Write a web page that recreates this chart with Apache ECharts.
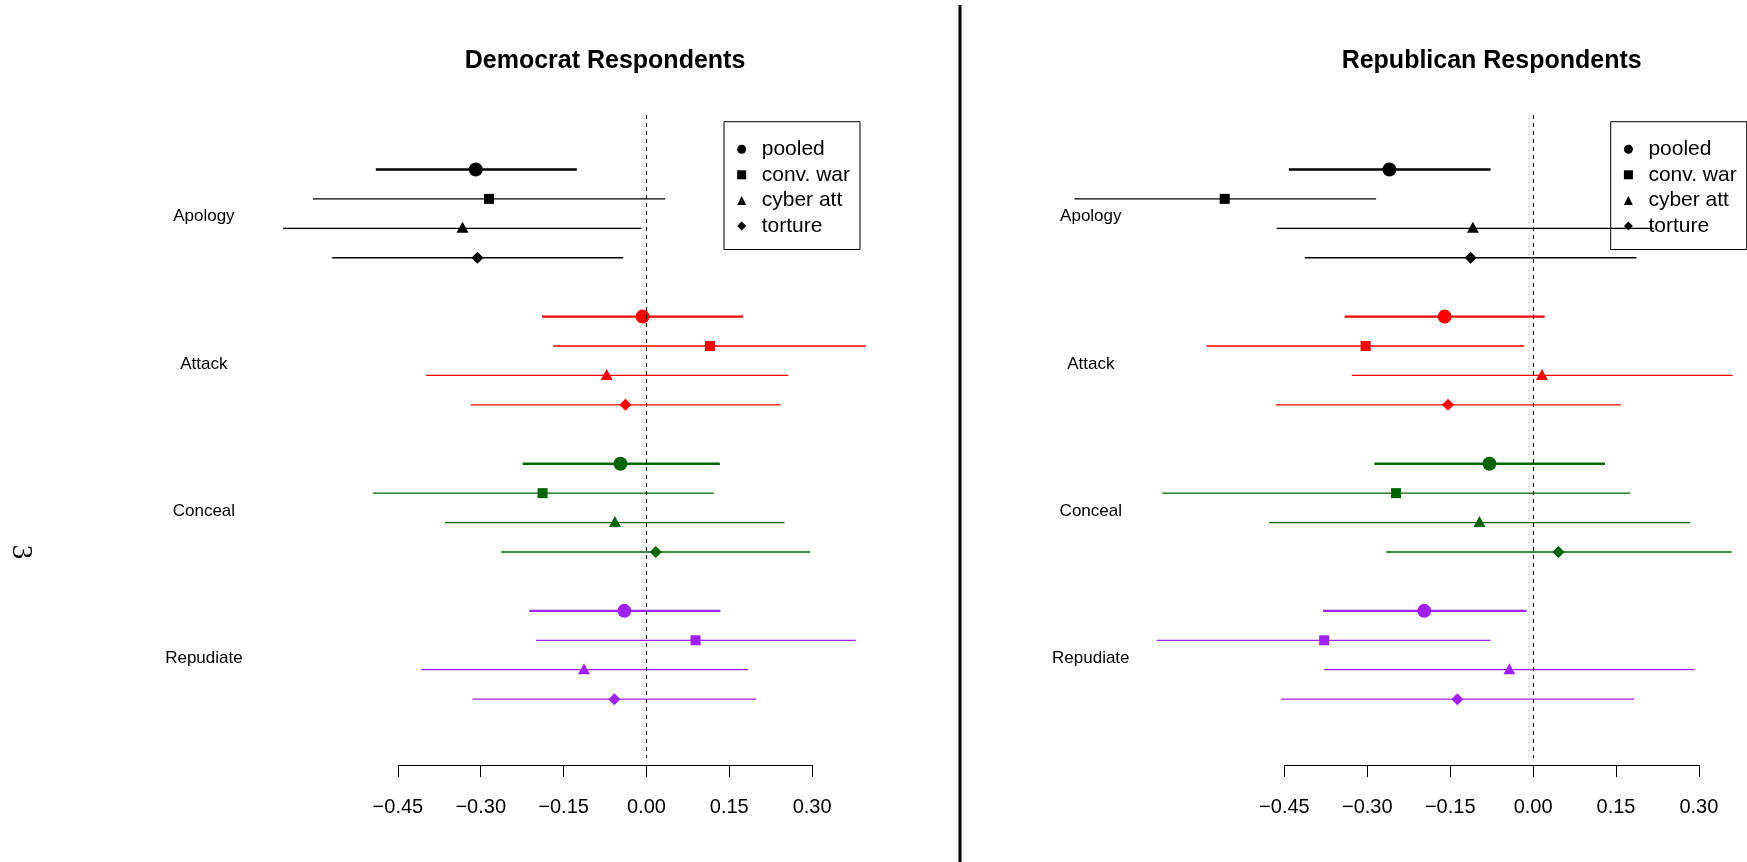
<!DOCTYPE html>
<html>
<head>
<meta charset="utf-8">
<script src="https://cdn.jsdelivr.net/npm/echarts/dist/echarts.min.js"></script>
<style>
html,body{margin:0;padding:0;background:#ffffff;}
#chart{width:1747px;height:862px;}
</style>
</head>
<body>
<div id="chart"></div>
<script>
// ---------------- DATA ----------------
const panelTitles = ['Democrat Respondents', 'Republican Respondents'];
const groups = ['Apology', 'Attack', 'Conceal', 'Repudiate'];
const types = ['pooled', 'conv. war', 'cyber att', 'torture'];
const tickValues = [-0.45, -0.30, -0.15, 0.00, 0.15, 0.30];
const pageNumber = '3';

// rows: groups (Apology, Attack, Conceal, Repudiate); columns: types (pooled, conv. war, cyber att, torture)
const demEst = [
  [-0.309, -0.285, -0.333, -0.306],
  [-0.007,  0.115, -0.072, -0.038],
  [-0.047, -0.188, -0.057,  0.017],
  [-0.040,  0.089, -0.113, -0.058]
];
const demLo = [
  [-0.490, -0.604, -0.658, -0.569],
  [-0.189, -0.169, -0.399, -0.318],
  [-0.224, -0.495, -0.365, -0.263],
  [-0.212, -0.200, -0.408, -0.315]
];
const demHi = [
  [-0.126,  0.034, -0.009, -0.042],
  [ 0.175,  0.397,  0.257,  0.243],
  [ 0.133,  0.122,  0.250,  0.296],
  [ 0.134,  0.379,  0.184,  0.199]
];
const repEst = [
  [-0.260, -0.558, -0.109, -0.113],
  [-0.160, -0.303,  0.016, -0.154],
  [-0.079, -0.248, -0.097,  0.046],
  [-0.197, -0.378, -0.043, -0.137]
];
const repLo = [
  [-0.442, -0.830, -0.464, -0.413],
  [-0.341, -0.591, -0.328, -0.466],
  [-0.287, -0.671, -0.478, -0.266],
  [-0.380, -0.681, -0.378, -0.456]
];
const repHi = [
  [-0.077, -0.284,  0.218,  0.187],
  [ 0.021, -0.016,  0.361,  0.159],
  [ 0.130,  0.176,  0.284,  0.359],
  [-0.012, -0.077,  0.292,  0.183]
];

// ---------------- STYLE / LAYOUT ----------------
const groupColors = ['#000000', '#FF0000', '#006400', '#A020F0'];
const typeSymbols = ['circle', 'rect', 'triangle', 'diamond'];
const typeSymbolSizes = [14, 10, [12, 11], 12];
const typeSymbolOffsets = [[0, 0], [0, 0], [0, -1], [0, 0]];
const typeLineWidths = [2.4, 1.3, 1.3, 1.3];
const FONT = '"Liberation Sans", Arial, Helvetica, sans-serif';

const panelLayout = [
  { left: 397.9, width: 414.2, labelMargin: 194, legendLeft: 724 },
  { left: 1284.4, width: 414.5, labelMargin: 193.6, legendLeft: 1610.7 }
];
const plotTop = 115, plotHeight = 643;
const rowMin = -1.85, rowMax = 20;
const labelTop = 143, labelHeight = 589;
const rowsPerGroup = 5;

const panelData = [
  { est: demEst, lo: demLo, hi: demHi },
  { est: repEst, lo: repLo, hi: repHi }
];

function fmtTick(v) {
  const r = Math.round(v * 100) / 100;
  return (r < 0 ? '\u2212' : '') + Math.abs(r).toFixed(2);
}

function ciRender(params, api) {
  const lo = api.value(0), hi = api.value(1), row = api.value(2);
  const g = api.value(3), k = api.value(4);
  const p1 = api.coord([lo, row]);
  const p2 = api.coord([hi, row]);
  return {
    type: 'line',
    shape: { x1: p1[0], y1: p1[1], x2: p2[0], y2: p2[1] },
    style: { stroke: groupColors[g], lineWidth: typeLineWidths[k] }
  };
}

const grid = [], xAxis = [], yAxis = [], series = [], legend = [], graphic = [];

panelLayout.forEach((pl, p) => {
  grid[p] = { left: pl.left, width: pl.width, top: plotTop, height: plotHeight, containLabel: false };
  grid[2 + p] = { left: pl.left, width: pl.width, top: labelTop, height: labelHeight, containLabel: false };

  xAxis[p] = {
    gridIndex: p, type: 'value',
    min: tickValues[0], max: tickValues[tickValues.length - 1], interval: 0.15,
    offset: 7,
    axisLine: { show: true, onZero: false, lineStyle: { color: '#000', width: 1 } },
    axisTick: { show: true, length: 12, inside: false, lineStyle: { color: '#000', width: 1 } },
    axisLabel: { show: true, margin: 32, fontSize: 20, color: '#000', fontFamily: FONT, formatter: fmtTick },
    splitLine: { show: false }
  };
  xAxis[2 + p] = { gridIndex: 2 + p, type: 'value', show: false };

  yAxis[p] = { gridIndex: p, type: 'value', min: rowMin, max: rowMax, inverse: true, show: false };
  yAxis[2 + p] = {
    gridIndex: 2 + p, type: 'category', data: groups, inverse: true,
    axisLine: { show: false }, axisTick: { show: false }, splitLine: { show: false },
    axisLabel: { show: true, align: 'center', margin: pl.labelMargin, fontSize: 17, color: '#000', fontFamily: FONT }
  };

  const d = panelData[p];
  const ciRows = [];
  groups.forEach((gName, g) => {
    types.forEach((tName, k) => {
      ciRows.push([d.lo[g][k], d.hi[g][k], g * rowsPerGroup + k, g, k]);
    });
  });

  series.push({
    type: 'custom',
    name: 'ci' + p,
    xAxisIndex: p, yAxisIndex: p,
    data: ciRows,
    encode: { x: [0, 1], y: 2 },
    renderItem: ciRender,
    clip: false,
    silent: true,
    z: 2,
    markLine: {
      silent: true,
      symbol: ['none', 'none'],
      label: { show: false },
      lineStyle: { color: '#000', width: 1, type: [4, 4] },
      emphasis: { disabled: true },
      data: [{ xAxis: 0 }]
    }
  });

  types.forEach((tName, k) => {
    series.push({
      type: 'scatter',
      name: tName,
      xAxisIndex: p, yAxisIndex: p,
      data: groups.map((gName, g) => [d.est[g][k], g * rowsPerGroup + k, g]),
      symbol: typeSymbols[k],
      symbolSize: typeSymbolSizes[k],
      symbolOffset: typeSymbolOffsets[k],
      symbolKeepAspect: true,
      itemStyle: { color: (prm) => groupColors[prm.value[2]], opacity: 1 },
      clip: false,
      silent: true,
      z: 3
    });
  });

  legend.push({
    left: pl.legendLeft, top: 121.7,
    orient: 'vertical',
    itemWidth: 9, itemHeight: 9, itemGap: 4.6,
    padding: [17, 10, 13, 13.2],
    borderColor: '#000', borderWidth: 1, borderRadius: 0,
    backgroundColor: 'transparent',
    selectedMode: false,
    itemStyle: { color: '#000', borderWidth: 0 },
    textStyle: { fontSize: 21, lineHeight: 21, color: '#000', fontFamily: FONT, padding: [0, 0, 0, 10.5] },
    data: types.map((t, k) => ({ name: t, icon: typeSymbols[k] }))
  });

  graphic.push({
    type: 'text',
    x: pl.left + pl.width / 2, y: 61,
    silent: true,
    style: { text: panelTitles[p], font: 'bold 25px ' + FONT, fill: '#000', align: 'center', verticalAlign: 'middle' }
  });
});

graphic.push({
  type: 'line', silent: true,
  shape: { x1: 960, y1: 5, x2: 960, y2: 862 },
  style: { stroke: '#000', lineWidth: 3 }
});
graphic.push({
  type: 'text', silent: true,
  x: 20.5, y: 552, rotation: -Math.PI / 2,
  style: { text: pageNumber, font: '29px "Liberation Serif", "DejaVu Serif", serif', fill: '#000', align: 'center', verticalAlign: 'middle' }
});

const chart = echarts.init(document.getElementById('chart'), null, { renderer: 'canvas' });
chart.setOption({
  backgroundColor: '#ffffff',
  animation: false,
  tooltip: { show: false },
  grid, xAxis, yAxis, series, legend, graphic
});
</script>
</body>
</html>
